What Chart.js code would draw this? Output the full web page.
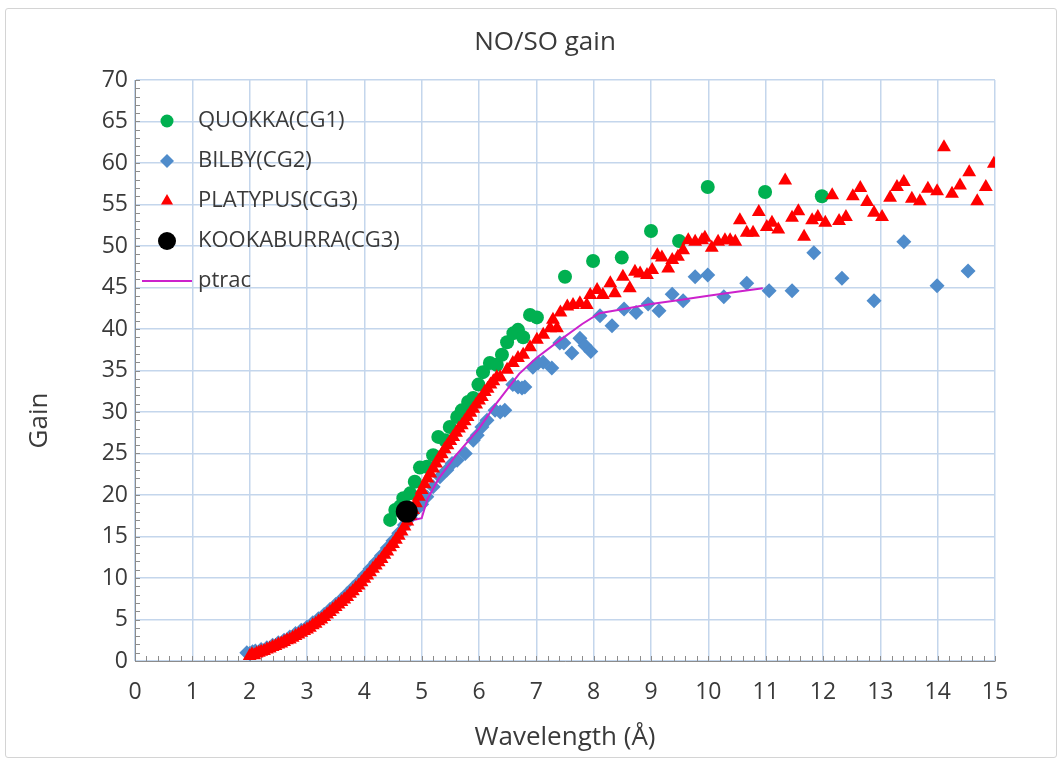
<!DOCTYPE html>
<html>
<head>
<meta charset="utf-8">
<title>NO/SO gain</title>
<script src="https://cdn.jsdelivr.net/npm/chart.js@4.4.1/dist/chart.umd.min.js"></script>
<style>
    html, body { margin: 0; padding: 0; background: #fff; }
    #wrap { position: relative; width: 1062px; height: 762px; }
    #frame { position: absolute; left: 5px; top: 8px; width: 1050px; height: 748px; border: 1px solid #d4d4d4; border-radius: 3px; }
    #gainChart { position: absolute; left: 0; top: 0; }
</style>
</head>
<body>
<div id="wrap">
    <div id="frame"></div>
    <canvas id="gainChart" width="1062" height="762"></canvas>
</div>
<script>
// [wavelength (Å), gain] pairs per camera
const quokka = [
    [4.45, 17.0], [4.54, 18.2], [4.62, 18.6], [4.68, 19.6], [4.80, 20.2], [4.88, 21.6],
    [4.97, 23.3], [5.09, 23.4], [5.20, 24.8], [5.29, 27.0], [5.41, 26.6], [5.49, 28.2],
    [5.62, 29.4], [5.70, 30.2], [5.81, 31.2], [5.90, 31.7], [5.99, 33.3], [6.07, 34.8],
    [6.19, 35.9], [6.31, 35.7], [6.40, 36.9], [6.49, 38.4], [6.60, 39.5], [6.68, 39.9],
    [6.77, 39.0], [6.89, 41.7], [7.01, 41.4], [7.50, 46.3], [7.99, 48.2], [8.49, 48.6],
    [9.00, 51.8], [9.49, 50.6], [9.99, 57.1], [10.99, 56.5], [11.98, 56.0],
];

const bilby = [
    [1.95, 1.0], [2.00, 0.9], [2.05, 1.1], [2.10, 1.2], [2.20, 1.4], [2.30, 1.6],
    [2.40, 1.9], [2.50, 2.2], [2.60, 2.5], [2.70, 2.9], [2.80, 3.3], [2.90, 3.7],
    [3.00, 4.1], [3.10, 4.6], [3.20, 5.1], [3.30, 5.6], [3.40, 6.2], [3.50, 6.8],
    [3.60, 7.4], [3.70, 8.1], [3.80, 8.8], [3.90, 9.5], [4.00, 10.3], [4.10, 11.1],
    [4.20, 11.9], [4.30, 12.7], [4.40, 13.6], [4.50, 14.5], [4.60, 15.4], [4.70, 16.4],
    [4.80, 17.3], [4.90, 18.2], [5.00, 18.9], [5.09, 19.8], [5.20, 21.0], [5.32, 22.2],
    [5.44, 23.0], [5.53, 23.8], [5.62, 24.2], [5.76, 25.0], [5.90, 26.6], [5.97, 27.2],
    [6.05, 28.2], [6.14, 29.0], [6.28, 30.2], [6.37, 30.0], [6.45, 30.2], [6.59, 33.3],
    [6.68, 33.0], [6.75, 32.9], [6.80, 33.0], [6.94, 35.4], [7.03, 35.9], [7.12, 36.0],
    [7.27, 35.3], [7.41, 38.3], [7.48, 38.3], [7.62, 37.1], [7.76, 38.9], [7.85, 38.0],
    [7.95, 37.3], [8.11, 41.6], [8.32, 40.4], [8.53, 42.4], [8.74, 42.0], [8.95, 43.0],
    [9.14, 42.2], [9.37, 44.2], [9.56, 43.4], [9.77, 46.3], [9.99, 46.5], [10.27, 43.9],
    [10.67, 45.5], [11.06, 44.6], [11.46, 44.6], [11.84, 49.2], [12.33, 46.1], [12.89, 43.4],
    [13.41, 50.5], [13.99, 45.2], [14.53, 47.0],
];

const platypus = [
    [2.00, 0.6], [2.04, 0.8], [2.08, 0.7], [2.12, 0.9], [2.16, 1.0], [2.20, 1.1],
    [2.25, 1.2], [2.30, 1.4], [2.35, 1.5], [2.40, 1.7], [2.45, 1.8], [2.50, 2.0],
    [2.55, 2.1], [2.60, 2.3], [2.65, 2.5], [2.70, 2.6], [2.75, 2.8], [2.80, 3.0],
    [2.85, 3.2], [2.90, 3.4], [2.95, 3.6], [3.00, 3.8], [3.05, 4.0], [3.10, 4.3],
    [3.15, 4.5], [3.20, 4.8], [3.25, 5.0], [3.30, 5.3], [3.35, 5.6], [3.40, 5.9],
    [3.45, 6.2], [3.50, 6.5], [3.55, 6.8], [3.60, 7.1], [3.65, 7.4], [3.70, 7.7],
    [3.75, 8.1], [3.80, 8.4], [3.85, 8.8], [3.90, 9.1], [3.95, 9.5], [4.00, 9.9],
    [4.05, 10.3], [4.10, 10.7], [4.15, 11.1], [4.20, 11.5], [4.25, 11.9], [4.30, 12.3],
    [4.35, 12.8], [4.40, 13.2], [4.45, 13.7], [4.50, 14.1], [4.55, 14.6], [4.60, 15.1],
    [4.65, 15.6], [4.70, 16.2], [4.75, 16.8], [4.80, 17.5], [4.85, 18.2], [4.90, 19.0],
    [4.95, 19.8], [5.00, 20.6], [5.05, 21.3], [5.10, 22.0], [5.15, 22.6], [5.20, 23.2],
    [5.25, 23.8], [5.30, 24.4], [5.35, 24.9], [5.40, 25.5], [5.45, 26.0], [5.50, 26.5],
    [5.55, 27.0], [5.60, 27.5], [5.65, 28.0], [5.70, 28.4], [5.75, 28.9], [5.80, 29.4],
    [5.85, 29.9], [5.90, 30.4], [5.95, 30.9], [6.00, 31.4], [6.05, 31.8], [6.10, 32.4],
    [6.15, 32.8], [6.20, 33.3], [6.25, 33.7], [6.31, 34.2], [6.37, 34.2], [6.49, 35.1],
    [6.59, 35.9], [6.68, 36.5], [6.77, 36.9], [6.89, 37.8], [7.01, 38.7], [7.12, 39.3],
    [7.24, 40.1], [7.29, 41.1], [7.36, 40.1], [7.42, 42.0], [7.54, 42.7], [7.64, 42.9],
    [7.76, 43.1], [7.88, 42.9], [7.94, 44.1], [8.06, 44.7], [8.16, 44.1], [8.29, 45.5],
    [8.37, 44.3], [8.51, 46.3], [8.63, 44.9], [8.72, 46.9], [8.81, 46.7], [8.93, 46.5],
    [9.02, 47.1], [9.11, 48.9], [9.19, 48.6], [9.30, 47.3], [9.37, 48.3], [9.47, 48.7],
    [9.56, 49.5], [9.65, 50.7], [9.77, 50.5], [9.89, 50.7], [9.94, 51.0], [10.06, 49.8],
    [10.17, 50.5], [10.29, 50.7], [10.38, 50.7], [10.47, 50.5], [10.55, 53.1], [10.67, 51.6],
    [10.78, 51.6], [10.88, 54.1], [11.02, 52.3], [11.11, 52.8], [11.22, 52.0], [11.34, 57.9],
    [11.46, 53.4], [11.57, 54.2], [11.67, 51.1], [11.81, 53.1], [11.91, 53.5], [12.04, 52.8],
    [12.16, 56.1], [12.28, 53.0], [12.40, 53.5], [12.52, 56.0], [12.65, 57.0], [12.77, 55.3],
    [12.89, 54.0], [13.03, 53.5], [13.17, 55.8], [13.29, 57.1], [13.41, 57.7], [13.55, 55.7],
    [13.69, 55.4], [13.83, 56.9], [13.99, 56.6], [14.11, 61.9], [14.25, 56.3], [14.39, 57.3],
    [14.55, 58.9], [14.69, 55.4], [14.84, 57.1], [14.98, 59.9],
];

const kookaburra = [[4.74, 18.0]];

const ptrac = [
    [2.0, 0.8], [2.5, 2.0], [3.0, 3.7], [3.5, 6.4], [4.0, 10.0], [4.5, 14.3],
    [4.8, 16.9], [5.0, 17.2], [5.1, 19.5], [5.3, 22.0], [5.6, 24.8], [6.0, 28.0],
    [6.3, 31.0], [6.7, 34.6], [7.0, 36.5], [7.4, 38.6], [7.8, 40.6], [8.1, 41.9],
    [8.6, 42.5], [9.0, 43.0], [9.5, 43.5], [10.0, 44.0], [10.5, 44.5], [10.95, 44.9],
];

const xRange = [0, 15];
const yRange = [0, 70];
const chartTitle = "NO/SO gain";
const yTitle = "Gain";

const FONT = '"Open Sans", "Noto Sans", sans-serif';
const TEXT = "#3a3a3a";
const GRID = "#c4d6ec";
const AXIS = "#8c8c8c";

const toPoints = (rows) => rows.map(([x, y]) => ({ x: x, y: y }));

// Excel-style minor tick marks on the inside of both axes
const minorTicks = {
    id: "minorTicks",
    beforeDatasetsDraw(chart) {
        const { ctx, chartArea, scales } = chart;
        ctx.save();
        ctx.strokeStyle = AXIS;
        ctx.lineWidth = 1;
        ctx.beginPath();
        for (let v = yRange[0]; v <= yRange[1]; v += 1) {
            const py = Math.round(scales.y.getPixelForValue(v)) + 0.5;
            ctx.moveTo(chartArea.left, py);
            ctx.lineTo(chartArea.left + 5, py);
        }
        for (let i = 0; i <= (xRange[1] - xRange[0]) * 5; i++) {
            const px = Math.round(scales.x.getPixelForValue(xRange[0] + i * 0.2)) + 0.5;
            ctx.moveTo(px, chartArea.bottom);
            ctx.lineTo(px, chartArea.bottom - 5);
        }
        ctx.stroke();
        ctx.restore();
    },
};

// chart title sits a little left of the plot centre, "Gain" a little below it
const titles = {
    id: "titles",
    afterDraw(chart) {
        const { ctx, chartArea } = chart;
        const midX = (chartArea.left + chartArea.right) / 2;
        const midY = (chartArea.top + chartArea.bottom) / 2;
        ctx.save();
        ctx.fillStyle = TEXT;
        ctx.textAlign = "center";
        ctx.textBaseline = "middle";
        ctx.font = "26px " + FONT;
        ctx.fillText(chartTitle, midX - 20, 43);
        ctx.translate(40, midY + 50);
        ctx.rotate(-Math.PI / 2);
        ctx.fillText(yTitle, 0, 0);
        ctx.restore();
    },
};

// legend sits inside the plot, top-left
const insideLegend = {
    id: "insideLegend",
    afterDraw(chart) {
        const { ctx, chartArea } = chart;
        const x0 = chartArea.left;
        ctx.save();
        ctx.font = "22px " + FONT;
        ctx.textBaseline = "middle";
        chart.data.datasets.forEach((ds, i) => {
            const y = chartArea.top + 41 + i * 40;
            if (ds.showLine) {
                ctx.strokeStyle = ds.borderColor;
                ctx.lineWidth = ds.borderWidth;
                ctx.beginPath();
                ctx.moveTo(x0 + 7, y);
                ctx.lineTo(x0 + 57, y);
                ctx.stroke();
            } else {
                ctx.fillStyle = ds.backgroundColor;
                ctx.strokeStyle = ds.backgroundColor;
                Chart.helpers.drawPoint(ctx, {
                    pointStyle: ds.pointStyle,
                    radius: ds.legendRadius,
                    rotation: 0,
                    borderWidth: 0,
                }, x0 + 32, y);
            }
            ctx.fillStyle = TEXT;
            ctx.fillText(ds.label, x0 + 63, y);
        });
        ctx.restore();
    },
};

const ctx = document.getElementById("gainChart");
new Chart(ctx, {
    type: "scatter",
    data: {
        datasets: [
            {
                label: "QUOKKA(CG1)",
                data: toPoints(quokka),
                pointStyle: "circle",
                pointRadius: 7,
                legendRadius: 6.5,
                backgroundColor: "#00b050",
                borderWidth: 0,
                order: 5,
            },
            {
                label: "BILBY(CG2)",
                data: toPoints(bilby),
                pointStyle: "rectRot",
                pointRadius: 7.5,
                legendRadius: 7,
                backgroundColor: "#4f8ccb",
                borderWidth: 0,
                order: 4,
            },
            {
                label: "PLATYPUS(CG3)",
                data: toPoints(platypus),
                pointStyle: "triangle",
                pointRadius: 8,
                legendRadius: 7,
                backgroundColor: "#ff0000",
                borderWidth: 0,
                order: 2,
            },
            {
                label: "KOOKABURRA(CG3)",
                data: toPoints(kookaburra),
                pointStyle: "circle",
                pointRadius: 11,
                legendRadius: 9,
                backgroundColor: "#000000",
                borderWidth: 0,
                order: 1,
            },
            {
                label: "ptrac",
                data: toPoints(ptrac),
                showLine: true,
                pointRadius: 0,
                borderColor: "#cc22cc",
                borderWidth: 2,
                backgroundColor: "#cc22cc",
                order: 3,
            },
        ],
    },
    options: {
        responsive: false,
        animation: false,
        events: [],
        layout: {
            padding: { left: 22, right: 67, top: 80, bottom: 6 },
        },
        plugins: {
            legend: { display: false },
            tooltip: { enabled: false },
            title: { display: false },
        },
        scales: {
            x: {
                type: "linear",
                min: xRange[0],
                max: xRange[1],
                ticks: {
                    stepSize: 1,
                    color: TEXT,
                    padding: 18,
                    font: { family: FONT, size: 23 },
                },
                grid: { color: GRID, lineWidth: 1.5, drawTicks: false },
                border: { color: AXIS, width: 1 },
                title: {
                    display: true,
                    text: "Wavelength (Å)",
                    color: TEXT,
                    font: { family: FONT, size: 26 },
                    padding: { top: 0, bottom: 3 },
                },
                afterFit(scale) {
                    scale.height = 95;
                },
            },
            y: {
                type: "linear",
                min: yRange[0],
                max: yRange[1],
                ticks: {
                    stepSize: 5,
                    color: TEXT,
                    padding: 7,
                    font: { family: FONT, size: 23 },
                },
                grid: { color: GRID, lineWidth: 1.5, drawTicks: false },
                border: { color: AXIS, width: 1 },
                afterFit(scale) {
                    scale.width = 113;
                },
            },
        },
    },
    plugins: [minorTicks, titles, insideLegend],
});
</script>
</body>
</html>
